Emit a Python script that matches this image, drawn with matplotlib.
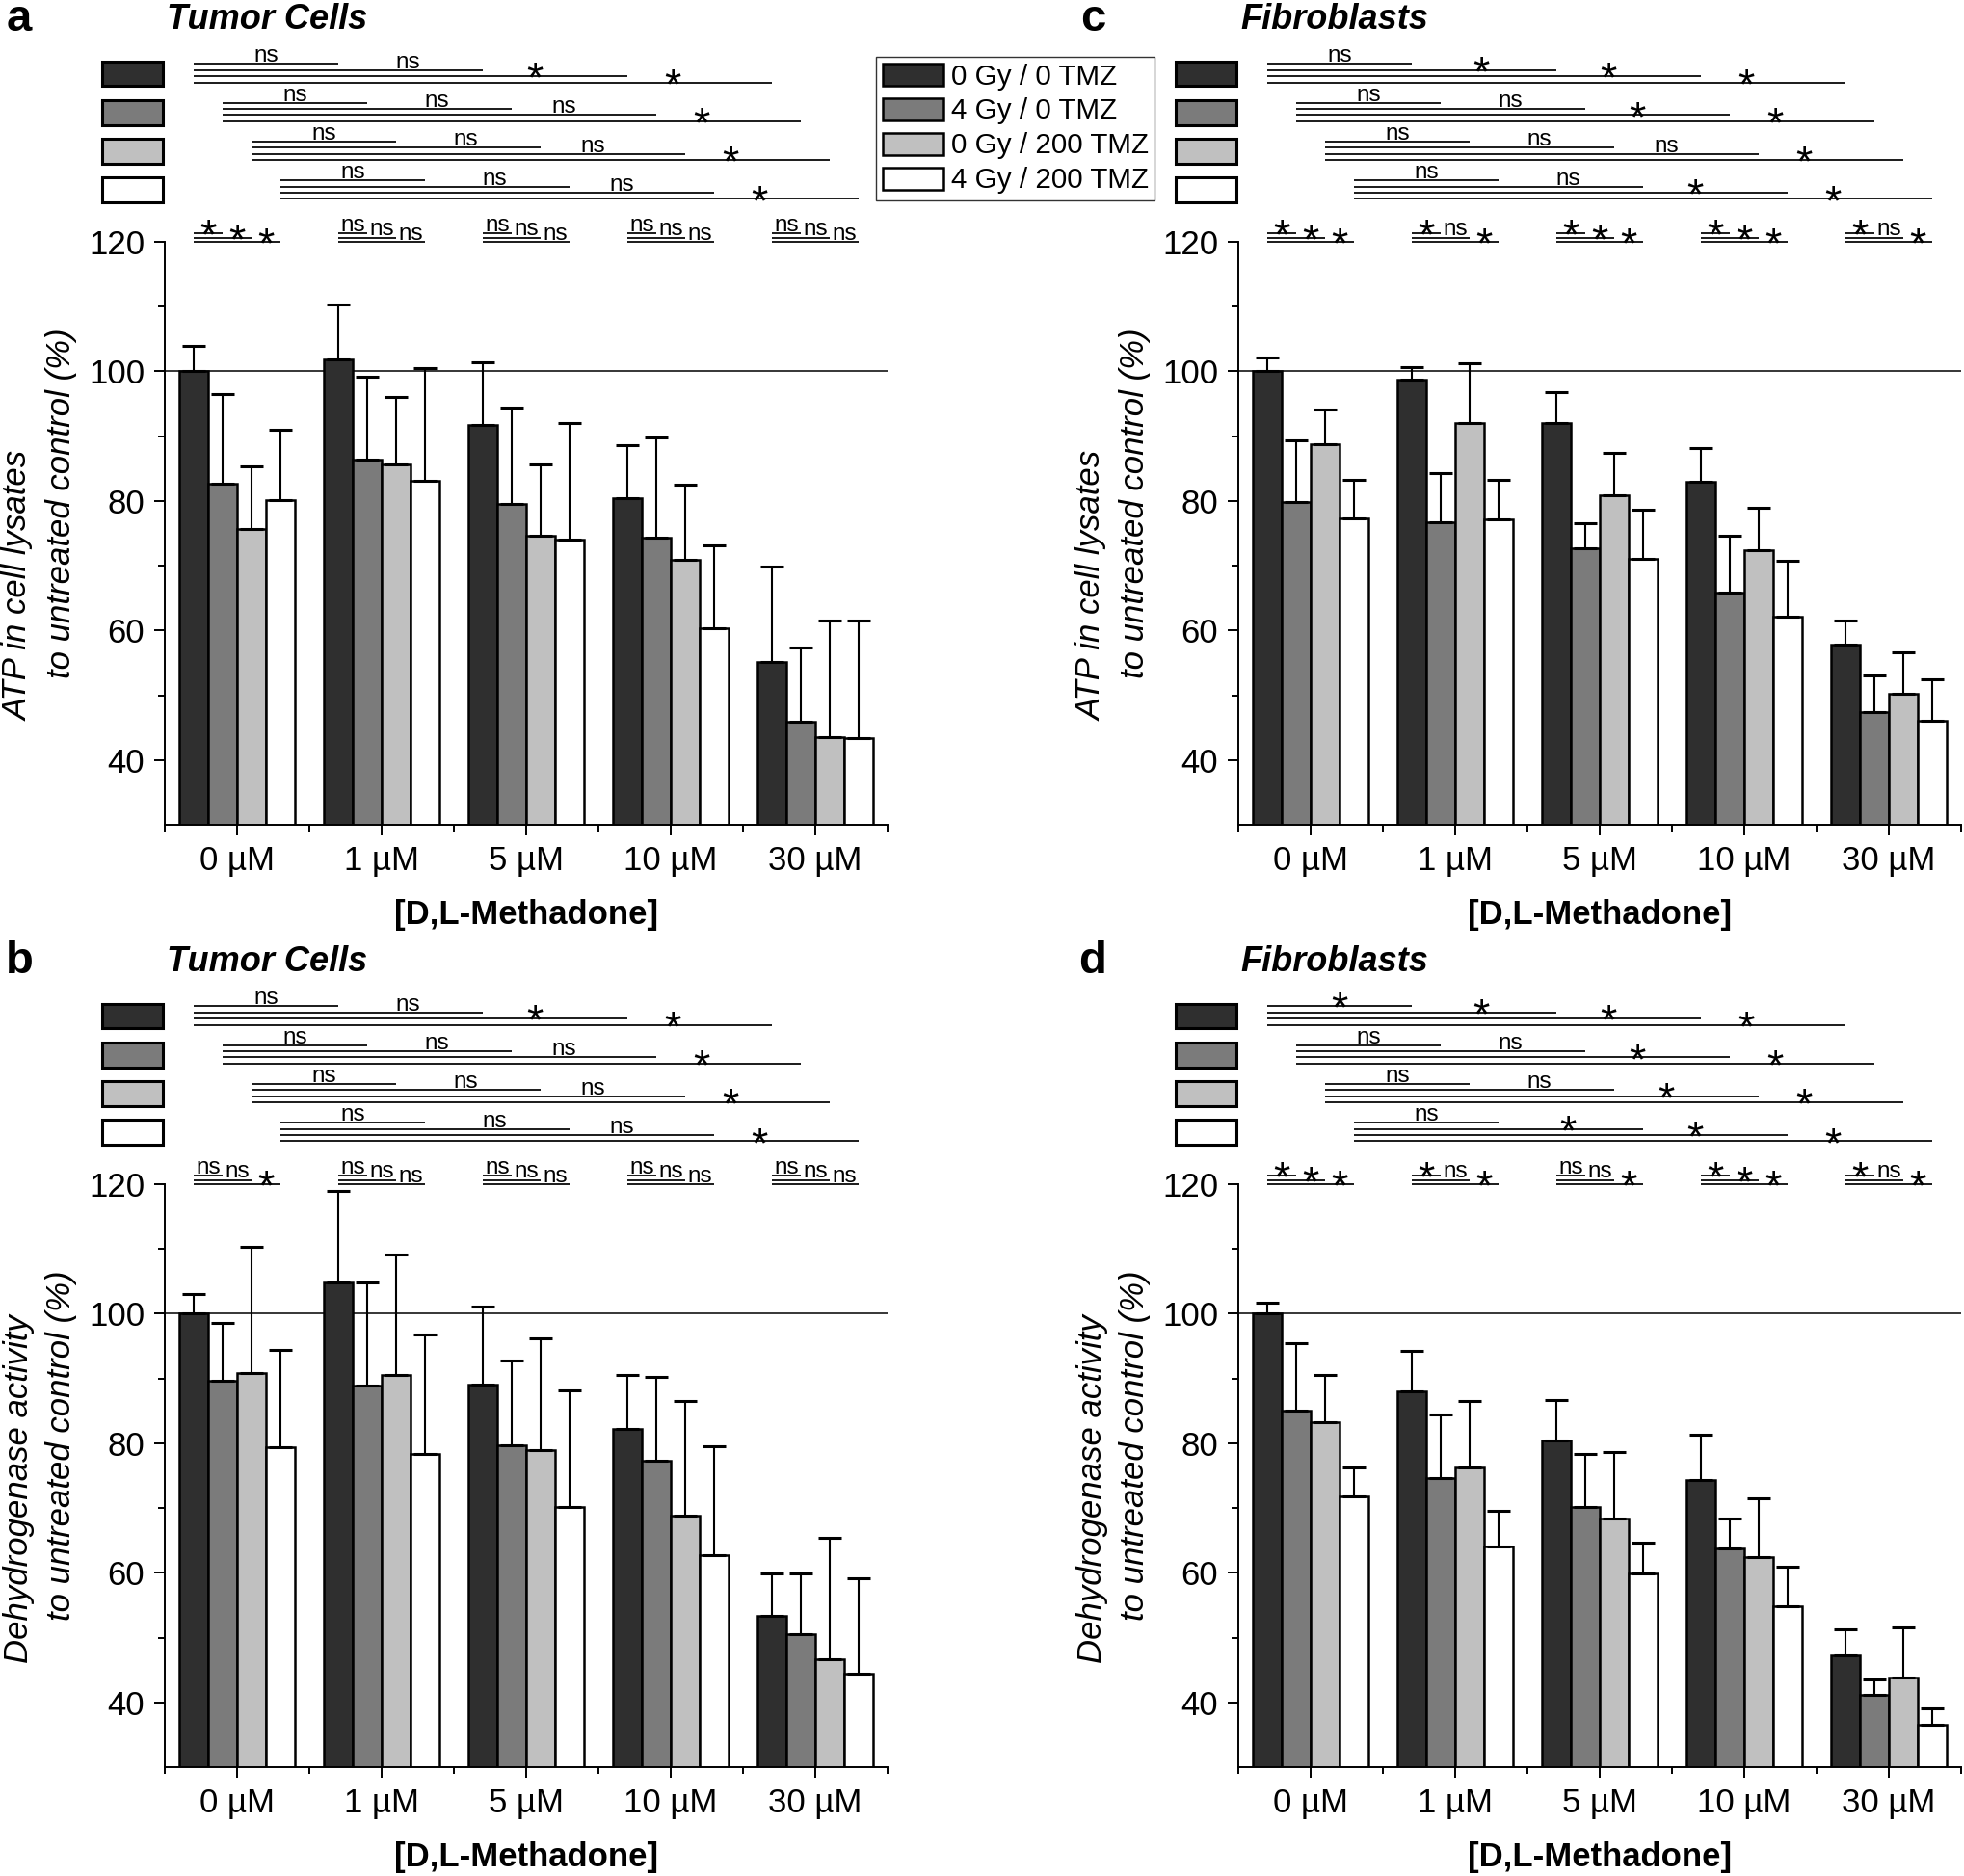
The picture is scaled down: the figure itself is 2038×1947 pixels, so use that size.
import numpy as np
import matplotlib.pyplot as plt
from matplotlib.patches import Rectangle
from matplotlib.transforms import blended_transform_factory

plt.rcParams['font.family'] = ['Liberation Sans', 'DejaVu Sans']

# figure size in pixels (dpi 100)
W, H = 2038, 1947

doses = ['0 µM', '1 µM', '5 µM', '10 µM', '30 µM']
treatments = ['0 Gy / 0 TMZ', '4 Gy / 0 TMZ', '0 Gy / 200 TMZ', '4 Gy / 200 TMZ']
bar_colors = ['#2f2f2f', '#7b7b7b', '#c0c0c0', '#ffffff']

# a: ATP, tumor cells (rows = treatment, columns = dose)
atp_tumor_mean = [[100.0, 101.8, 91.8, 80.4, 55.2],
                  [82.6, 86.4, 79.6, 74.3, 45.9],
                  [75.7, 85.6, 74.7, 70.9, 43.6],
                  [80.1, 83.1, 74.0, 60.3, 43.4]]
atp_tumor_sd = [[3.9, 8.5, 9.6, 8.2, 14.6],
                [13.9, 12.8, 14.8, 15.5, 11.4],
                [9.7, 10.5, 11.0, 11.6, 18.0],
                [10.9, 17.4, 18.0, 12.8, 18.2]]

# b: dehydrogenase, tumor cells
dh_tumor_mean = [[100.0, 104.9, 89.0, 82.2, 53.3],
                 [89.6, 88.9, 79.7, 77.3, 50.6],
                 [90.8, 90.6, 78.9, 68.9, 46.6],
                 [79.4, 78.4, 70.1, 62.7, 44.5]]
dh_tumor_sd = [[3.0, 14.0, 12.1, 8.3, 6.6],
               [9.0, 16.0, 13.1, 13.0, 9.3],
               [19.6, 18.6, 17.3, 17.6, 18.8],
               [15.0, 18.4, 18.1, 16.9, 14.6]]

# c: ATP, fibroblasts
atp_fibro_mean = [[100.0, 98.8, 92.0, 82.9, 57.8],
                  [79.9, 76.7, 72.7, 65.8, 47.4],
                  [88.8, 92.0, 80.9, 72.4, 50.2],
                  [77.3, 77.1, 71.0, 62.2, 46.0]]
atp_fibro_sd = [[2.1, 1.8, 4.8, 5.3, 3.7],
                [9.4, 7.6, 3.9, 8.9, 5.7],
                [5.3, 9.3, 6.5, 6.6, 6.4],
                [5.9, 6.1, 7.7, 8.5, 6.4]]

# d: dehydrogenase, fibroblasts
dh_fibro_mean = [[100.0, 88.0, 80.5, 74.4, 47.3],
                 [85.1, 74.7, 70.1, 63.7, 41.2],
                 [83.2, 76.3, 68.4, 62.5, 43.8],
                 [71.8, 64.0, 59.9, 54.9, 36.6]]
dh_fibro_sd = [[1.7, 6.2, 6.2, 6.9, 3.9],
               [10.3, 9.7, 8.2, 4.7, 2.3],
               [7.4, 10.3, 10.3, 9.0, 7.7],
               [4.4, 5.6, 4.7, 6.0, 2.5]]

# significance: each treatment, 0 µM vs 1 / 5 / 10 / 30 µM
atp_tumor_dose_sig = [['ns', 'ns', '*', '*'], ['ns', 'ns', 'ns', '*'],
                      ['ns', 'ns', 'ns', '*'], ['ns', 'ns', 'ns', '*']]
dh_tumor_dose_sig = [['ns', 'ns', '*', '*'], ['ns', 'ns', 'ns', '*'],
                     ['ns', 'ns', 'ns', '*'], ['ns', 'ns', 'ns', '*']]
atp_fibro_dose_sig = [['ns', '*', '*', '*'], ['ns', 'ns', '*', '*'],
                      ['ns', 'ns', 'ns', '*'], ['ns', 'ns', '*', '*']]
dh_fibro_dose_sig = [['*', '*', '*', '*'], ['ns', 'ns', '*', '*'],
                     ['ns', 'ns', '*', '*'], ['ns', '*', '*', '*']]

# significance: each dose, 0 Gy / 0 TMZ vs the other three treatments
atp_tumor_group_sig = [['*', '*', '*'], ['ns', 'ns', 'ns'], ['ns', 'ns', 'ns'],
                       ['ns', 'ns', 'ns'], ['ns', 'ns', 'ns']]
dh_tumor_group_sig = [['ns', 'ns', '*'], ['ns', 'ns', 'ns'], ['ns', 'ns', 'ns'],
                      ['ns', 'ns', 'ns'], ['ns', 'ns', 'ns']]
atp_fibro_group_sig = [['*', '*', '*'], ['*', 'ns', '*'], ['*', '*', '*'],
                       ['*', '*', '*'], ['*', 'ns', '*']]
dh_fibro_group_sig = [['*', '*', '*'], ['*', 'ns', '*'], ['ns', 'ns', '*'],
                      ['*', '*', '*'], ['*', 'ns', '*']]

AXW, AXH = 750, 605
BW = 0.2
FS = 25
STAR_FS = 32


def sig_text(ax, trans, x, y_px, label):
    # y_px: pixels above axes top where the line sits
    if label == '*':
        off = 8.5 - 0.563 * STAR_FS * 100 / 72
        ax.text(x, 1 + (y_px + off) / AXH, '*', fontsize=STAR_FS, ha='center',
                va='baseline', transform=trans)
    else:
        ax.text(x, 1 + (y_px + 2) / AXH, label, fontsize=17.5, ha='center',
                va='baseline', transform=trans)


def draw_panel(left, top, letter, title, ylab1, ylab2, mean, sd, dose_sig, group_sig):
    ax = fig.add_axes([left / W, 1 - (top + AXH) / H, AXW / W, AXH / H])
    x = np.arange(len(doses))
    bars = []
    for i in range(4):
        b = ax.bar(x + (i - 1.5) * BW, mean[i], BW, color=bar_colors[i],
                   edgecolor='black', linewidth=1.8,
                   yerr=[np.zeros(len(doses)), sd[i]], capsize=8.5,
                   error_kw=dict(elinewidth=1.5, capthick=2.2, ecolor='black'))
        bars.append(b)
    ax.axhline(100, color='black', lw=1.1, zorder=0.5)

    ax.set_xlim(-0.5, 4.5)
    ax.set_ylim(30, 120)
    ax.set_xticks(x)
    ax.set_xticklabels(doses)
    ax.set_xticks(np.arange(-0.5, 5, 1), minor=True)
    ax.set_yticks([40, 60, 80, 100, 120])
    ax.set_yticks([50, 70, 90, 110], minor=True)
    ax.tick_params(which='major', length=8, width=1.4, labelsize=FS)
    ax.tick_params(which='minor', length=5, width=1.4)
    ax.tick_params(axis='y', pad=7)
    ax.tick_params(axis='x', pad=7)
    for s in ['top', 'right']:
        ax.spines[s].set_visible(False)
    for s in ['left', 'bottom']:
        ax.spines[s].set_linewidth(1.4)

    ax.text(-152 / AXW, 0.5 - 195 / AXH, ylab1, rotation=90, rotation_mode='anchor',
            ha='left', va='center', style='italic', fontsize=FS, transform=ax.transAxes)
    ax.text(-108 / AXW, 0.5 - 150 / AXH, ylab2, rotation=90, rotation_mode='anchor',
            ha='left', va='center', style='italic', fontsize=FS, transform=ax.transAxes)
    ax.text(0.5, -93 / AXH, '[D,L-Methadone]', fontsize=FS, fontweight='bold',
            ha='center', va='center', transform=ax.transAxes)

    fig.text((left - 151) / W, 1 - (top - 231) / H, letter, fontsize=34,
             fontweight='bold', ha='center', va='center')
    fig.text((left + 2) / W, 1 - (top - 231) / H, title, fontsize=26,
             fontweight='bold', style='italic', ha='left', va='center')

    trans = blended_transform_factory(ax.transData, ax.transAxes)

    # treatment swatches and dose comparisons
    shift = [0.5, 0.52, 0.64, 0.69]
    for r in range(4):
        sw_top = 187.4 - 40.3 * r
        ax.add_patch(Rectangle((-65 / AXW, 1 + (sw_top - 25.7) / AXH), 63 / AXW,
                               25.7 / AXH, facecolor=bar_colors[r], edgecolor='black',
                               linewidth=2.2, transform=ax.transAxes, clip_on=False))
        x0 = (r - 1.5) * BW
        for k in range(4):
            y_px = 184.7 - 40.3 * r - 6.4 * k
            x1 = k + 1 + x0
            ax.plot([x0, x1], [1 + y_px / AXH] * 2, color='#1a1a1a', lw=1.4,
                    transform=trans, clip_on=False, solid_capstyle='butt')
            sig_text(ax, trans, x1 - shift[k], y_px, dose_sig[r][k])

    # within-dose comparisons
    for g in range(len(doses)):
        x0 = g - 1.5 * BW
        for k in range(3):
            y_px = 9 - 4.5 * k
            x1 = x0 + (k + 1) * BW
            ax.plot([x0, x1], [1 + y_px / AXH] * 2, color='#1a1a1a', lw=1.4,
                    transform=trans, clip_on=False, solid_capstyle='butt')
            sig_text(ax, trans, x1 - BW / 2, y_px, group_sig[g][k])
    return ax, bars


fig = plt.figure(figsize=(W / 100, H / 100), dpi=100)

ax_a, bars_a = draw_panel(171, 251, 'a', 'Tumor Cells', 'ATP in cell lysates',
                          'to untreated control (%)', atp_tumor_mean, atp_tumor_sd,
                          atp_tumor_dose_sig, atp_tumor_group_sig)
draw_panel(171, 1229, 'b', 'Tumor Cells', 'Dehydrogenase activity',
           'to untreated control (%)', dh_tumor_mean, dh_tumor_sd,
           dh_tumor_dose_sig, dh_tumor_group_sig)
draw_panel(1285, 251, 'c', 'Fibroblasts', 'ATP in cell lysates',
           'to untreated control (%)', atp_fibro_mean, atp_fibro_sd,
           atp_fibro_dose_sig, atp_fibro_group_sig)
draw_panel(1285, 1229, 'd', 'Fibroblasts', 'Dehydrogenase activity',
           'to untreated control (%)', dh_fibro_mean, dh_fibro_sd,
           dh_fibro_dose_sig, dh_fibro_group_sig)

leg = fig.legend(bars_a, treatments, loc='upper left',
                 bbox_to_anchor=(909 / W, 1 - 59 / H), fontsize=21.3,
                 frameon=True, fancybox=False, edgecolor='#333333', framealpha=1,
                 handlelength=2.16, handleheight=0.81, handletextpad=0.25,
                 labelspacing=0.27, borderpad=0.22, borderaxespad=0)
leg.get_frame().set_linewidth(1.0)

fig.savefig('out.png', dpi=100)
